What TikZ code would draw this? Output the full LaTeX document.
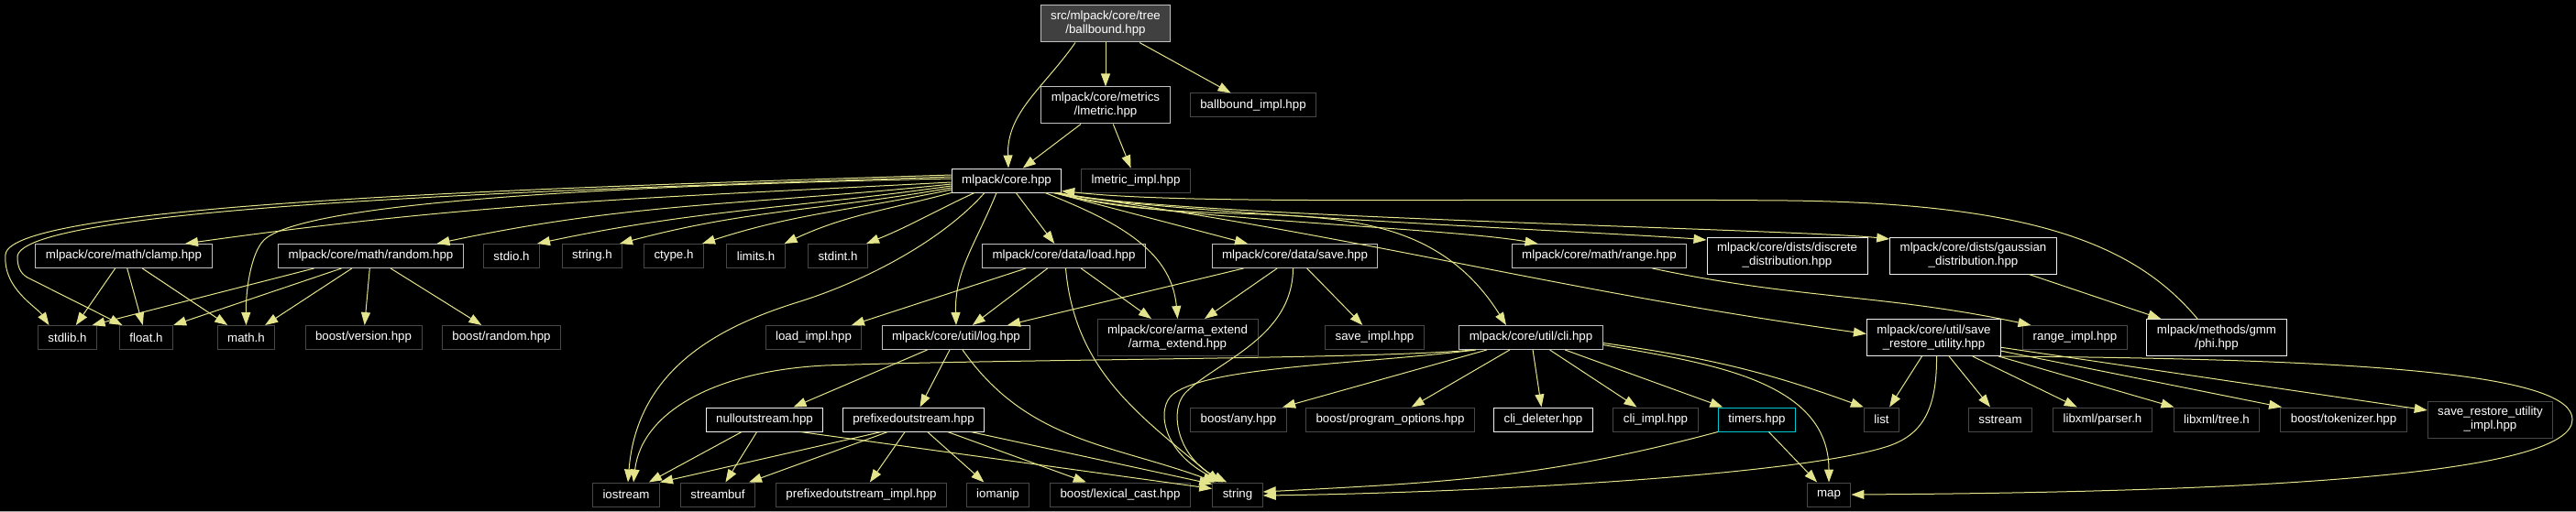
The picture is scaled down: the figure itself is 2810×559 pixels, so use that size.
\documentclass[tikz,border=0pt]{standalone}
\usepackage{fontspec}
\setmainfont{Liberation Sans}
\usepackage{xcolor}
\usepackage{tikz}
\usetikzlibrary{arrows.meta}
\definecolor{edgeyellow}{RGB}{228,228,140}
\definecolor{docwhite}{RGB}{238,238,238}
\definecolor{docgrey}{RGB}{192,192,192}
\definecolor{sysgrey}{RGB}{72,72,72}
\definecolor{rootfill}{RGB}{64,64,64}
\definecolor{cycleteal}{RGB}{0,200,210}
\tikzstyle{hfile}    = [rectangle, draw, fill=black, text=white,
                        font=\fontsize{13.3}{15}\selectfont, align=center,
                        inner xsep=11pt, inner ysep=0pt, minimum height=26pt,
                        line width=1pt]
\tikzstyle{rootfile} = [hfile, draw=docgrey, fill=rootfill, minimum height=40pt]
\tikzstyle{docfile}  = [hfile, draw=docwhite]
\tikzstyle{incfile}  = [hfile, draw=docgrey]
\tikzstyle{sysfile}  = [hfile, draw=sysgrey]
\tikzstyle{cycfile}  = [hfile, draw=cycleteal]
\tikzstyle{twoline}  = [minimum height=40pt]
\tikzstyle{arrow}    = [-{Triangle[length=14pt,width=10pt]}, draw=edgeyellow, line width=1pt]

\begin{document}
\begin{tikzpicture}[x=1pt, y=1pt]
  \fill[black] (0,0) rectangle (2810,-559);
  \useasboundingbox (0,0) rectangle (2810,-559);
  \draw[gray!70, line width=1.3pt] (0,-558.3) -- (2810,-558.3);

  % Header and its direct includes
  \node[rootfile] (root) at (1206,-26) {src/mlpack/core/tree\\/ballbound.hpp};
  \node[incfile, twoline] (lmetric) at (1206,-115) {mlpack/core/metrics\\/lmetric.hpp};
  \node[sysfile] (bbimpl) at (1367,-115) {ballbound\_impl.hpp};
  \node[docfile] (core) at (1098,-197) {mlpack/core.hpp};
  \node[sysfile] (lmimpl) at (1239,-197) {lmetric\_impl.hpp};

  % Second row
  \node[incfile] (clamp) at (135,-279.5) {mlpack/core/math/clamp.hpp};
  \node[incfile] (random) at (404.5,-279.5) {mlpack/core/math/random.hpp};
  \node[sysfile] (stdio) at (558,-279.5) {stdio.h};
  \node[sysfile] (stringh) at (646,-279.5) {string.h};
  \node[sysfile] (ctype) at (735,-279.5) {ctype.h};
  \node[sysfile] (limits) at (824.5,-279.5) {limits.h};
  \node[sysfile] (stdint) at (914,-279.5) {stdint.h};
  \node[incfile] (load) at (1160.5,-279.5) {mlpack/core/data/load.hpp};
  \node[incfile] (save) at (1412.5,-279.5) {mlpack/core/data/save.hpp};
  \node[incfile] (range) at (1744.5,-279.5) {mlpack/core/math/range.hpp};
  \node[docfile, twoline] (discrete) at (1949.5,-279) {mlpack/core/dists/discrete\\\_distribution.hpp};
  \node[docfile, twoline] (gaussian) at (2152.5,-279) {mlpack/core/dists/gaussian\\\_distribution.hpp};

  % Third row
  \node[sysfile] (stdlib) at (73.5,-368.5) {stdlib.h};
  \node[sysfile] (floath) at (159.5,-368.5) {float.h};
  \node[sysfile] (mathh) at (268.5,-368.5) {math.h};
  \node[sysfile] (version) at (396.5,-368.5) {boost/version.hpp};
  \node[sysfile] (brandom) at (547,-368.5) {boost/random.hpp};
  \node[sysfile] (loadimpl) at (887.5,-368.5) {load\_impl.hpp};
  \node[incfile] (log) at (1043,-368.5) {mlpack/core/util/log.hpp};
  \node[sysfile, twoline] (arma) at (1284.5,-368.5) {mlpack/core/arma\_extend\\/arma\_extend.hpp};
  \node[sysfile] (saveimpl) at (1499.5,-368.5) {save\_impl.hpp};
  \node[incfile] (cli) at (1670,-368.5) {mlpack/core/util/cli.hpp};
  \node[docfile, twoline] (saverest) at (2109.5,-368.5) {mlpack/core/util/save\\\_restore\_utility.hpp};
  \node[sysfile] (rangeimpl) at (2263.5,-368.5) {range\_impl.hpp};
  \node[docfile, twoline] (phi) at (2418,-368.5) {mlpack/methods/gmm\\/phi.hpp};

  % Fourth row
  \node[docfile] (nullos) at (834,-458) {nulloutstream.hpp};
  \node[docfile] (prefos) at (996.5,-458) {prefixedoutstream.hpp};
  \node[sysfile] (anyh) at (1351,-458) {boost/any.hpp};
  \node[sysfile] (progopt) at (1516.5,-458) {boost/program\_options.hpp};
  \node[docfile] (clidel) at (1683.5,-458) {cli\_deleter.hpp};
  \node[sysfile] (cliimpl) at (1806,-458) {cli\_impl.hpp};
  \node[cycfile] (timers) at (1916.5,-458) {timers.hpp};
  \node[sysfile] (list) at (2052.5,-458) {list};
  \node[sysfile] (sstream) at (2182,-458) {sstream};
  \node[sysfile] (parser) at (2293.5,-458) {libxml/parser.h};
  \node[sysfile] (tree) at (2418,-458) {libxml/tree.h};
  \node[sysfile] (tokenizer) at (2556.5,-458) {boost/tokenizer.hpp};
  \node[sysfile, twoline] (srimpl) at (2716.5,-458) {save\_restore\_utility\\\_impl.hpp};

  % Bottom row
  \node[sysfile] (iostream) at (683,-540) {iostream};
  \node[sysfile] (streambuf) at (783,-540) {streambuf};
  \node[sysfile] (preimpl) at (939.5,-540) {prefixedoutstream\_impl.hpp};
  \node[sysfile] (iomanip) at (1088.5,-540) {iomanip};
  \node[sysfile] (lexical) at (1222,-540) {boost/lexical\_cast.hpp};
  \node[sysfile] (string) at (1350,-540) {string};
  \node[sysfile] (map) at (1995,-540) {map};

  % Header includes
  \draw[arrow] ([xshift=-33pt]root.south) to[out=-125,in=92] ([xshift=2pt]core.north);
  \draw[arrow] (root) -- (lmetric);
  \draw[arrow] (root) -- (bbimpl);
  \draw[arrow] (lmetric) -- (core);
  \draw[arrow] (lmetric) -- (lmimpl);

  % core.hpp, left hand side
  \draw[arrow] ([yshift=6pt]core.west) .. controls (600,-205) and (10,-222) .. (6,-278)
               .. controls (3,-315) and (40,-335) .. ([xshift=-20pt]stdlib.north);
  \draw[arrow] ([yshift=4pt]core.west) .. controls (600,-207) and (25,-226) .. (19,-280)
               to[out=-90,in=150] (30,-303) -- ([xshift=-26pt]floath.north);
  \draw[arrow] ([yshift=2pt]core.west) .. controls (650,-203) and (330,-222) .. (288,-262)
               .. controls (273,-277) and (268,-320) .. (mathh.north);
  \draw[arrow] ([yshift=-2pt]core.west) to[out=183,in=8] ([xshift=67pt]clamp.north);
  \draw[arrow] ([yshift=-4pt]core.west) to[out=186,in=12] ([xshift=72pt]random.north);
  \draw[arrow] ([yshift=-6pt]core.west) to[out=188,in=12] ([xshift=28pt]stdio.north);
  \draw[arrow] ([yshift=-8pt]core.west) to[out=190,in=15] ([xshift=30pt]stringh.north);
  \draw[arrow] ([yshift=-10pt]core.west) to[out=192,in=18] ([xshift=31pt]ctype.north);
  \draw[arrow] (core.south west) to[out=195,in=25] ([xshift=31pt]limits.north);
  \draw[arrow] ([xshift=-35pt]core.south) to[out=-155,in=22] ([xshift=31pt]stdint.north);

  % core.hpp, downwards
  \draw[arrow] ([xshift=-24pt]core.south) .. controls (1030,-260) and (950,-305) .. (870,-330)
               .. controls (790,-355) and (695,-400) .. ([xshift=2pt]iostream.north);
  \draw[arrow] ([xshift=-11pt]core.south) to[out=-112,in=92] (log.north);
  \draw[arrow] (core) -- (load);
  \draw[arrow] ([xshift=42pt]core.south) to[out=-22,in=95] (arma.north);
  \draw[arrow] (core) -- (save);

  % core.hpp, right hand side (under lmetric_impl.hpp)
  \draw[arrow] ([xshift=-2pt]core.south east) to[out=-14,in=174,looseness=0.3] ([yshift=18pt]gaussian.west);
  \draw[arrow] ([xshift=-4pt]core.south east) to[out=-15,in=175,looseness=0.3] ([yshift=17pt]discrete.west);
  \draw[arrow] ([xshift=-6pt]core.south east) to[out=-16,in=170,looseness=0.5] ([xshift=-67pt]range.north);
  \draw[arrow] ([xshift=-8pt]core.south east) to[out=-15,in=122] ([xshift=-27pt]cli.north);
  \draw[arrow] ([xshift=-10pt]core.south east) to[out=-8,in=172] ([yshift=4pt]saverest.west);
  \draw[arrow] ([xshift=-21pt]phi.north) .. controls (2330,-268) and (2220,-222) .. (1950,-219)
               .. controls (1600,-216) and (1300,-224) .. ([yshift=2pt]core.south east);

  % Math headers
  \draw[arrow] (clamp) -- (stdlib);
  \draw[arrow] (clamp) -- (floath);
  \draw[arrow] (clamp) -- (mathh);
  \draw[arrow] ([xshift=-62pt]random.south) -- ([xshift=27pt]stdlib.north);
  \draw[arrow] ([xshift=-32pt]random.south) -- (floath.north east);
  \draw[arrow] (random) -- (mathh);
  \draw[arrow] (random) -- (version);
  \draw[arrow] (random) -- (brandom);
  \draw[arrow] ([xshift=58pt]range.south) to[out=-12,in=168] ([xshift=-48pt]rangeimpl.north);
  \draw[arrow] (gaussian) -- (phi);

  % Data load and save
  \draw[arrow] (load) -- (loadimpl);
  \draw[arrow] (load) -- (log);
  \draw[arrow] (load) -- (arma);
  \draw[arrow] ([xshift=2pt]load.south) to[out=-85,in=140] ([xshift=8pt]string.north west);
  \draw[arrow] (save) -- (log);
  \draw[arrow] (save) -- (arma);
  \draw[arrow] (save) -- (saveimpl);
  \draw[arrow] ([xshift=-2pt]save.south) .. controls (1410,-370) and (1325,-395) .. (1292,-430)
               .. controls (1275,-450) and (1285,-500) .. ([xshift=16pt]string.north west);

  % Logging
  \draw[arrow] (log) -- (prefos);
  \draw[arrow] (log) -- (nullos);
  \draw[arrow] ([xshift=7pt]log.south) to[out=-55,in=160] ([xshift=4pt]string.north west);
  \draw[arrow] (nullos) -- (iostream);
  \draw[arrow] (nullos) -- (streambuf);
  \draw[arrow] ([xshift=39pt]nullos.south) -- ([yshift=-7pt]string.north west);
  \draw[arrow] ([xshift=-35pt]prefos.south) -- (iostream.north east);
  \draw[arrow] ([xshift=-28pt]prefos.south) -- ([xshift=34pt]streambuf.north);
  \draw[arrow] (prefos) -- (preimpl);
  \draw[arrow] (prefos) -- (iomanip);
  \draw[arrow] (prefos) -- (lexical);
  \draw[arrow] (prefos) -- ([yshift=-2pt]string.north west);

  % Command line
  \draw[arrow] ([xshift=-63pt]cli.south) .. controls (1500,-392) and (1100,-392) .. (900,-399)
               .. controls (780,-405) and (700,-450) .. ([xshift=8pt]iostream.north);
  \draw[arrow] ([xshift=-60pt]cli.south) .. controls (1480,-398) and (1320,-400) .. (1280,-430)
               .. controls (1260,-445) and (1268,-495) .. ([xshift=12pt]string.north west);
  \draw[arrow] (cli) -- (anyh);
  \draw[arrow] (cli) -- (progopt);
  \draw[arrow] (cli) -- (clidel);
  \draw[arrow] (cli) -- (cliimpl);
  \draw[arrow] (cli) -- (timers);
  \draw[arrow] ([yshift=-6pt]cli.east) to[out=-8,in=160] (list.north west);
  \draw[arrow] ([yshift=-8pt]cli.east) to[out=-10,in=90] (map.north);
  \draw[arrow] (timers) -- (map);
  \draw[arrow] (timers.south west) to[out=-165,in=3] ([yshift=3pt]string.east);

  % Save / restore utility
  \draw[arrow] (saverest) -- (list);
  \draw[arrow] (saverest) -- (sstream);
  \draw[arrow] (saverest) -- (parser);
  \draw[arrow] (saverest) -- (tree);
  \draw[arrow] (saverest) -- (tokenizer);
  \draw[arrow] (saverest) -- (srimpl);
  \draw[arrow] ([xshift=3pt]saverest.south) .. controls (2113,-450) and (2095,-475) .. (2060,-487)
               .. controls (1960,-520) and (1600,-538) .. ([yshift=-1pt]string.east);
  \draw[arrow] (saverest.south east) .. controls (2600,-392) and (2806,-410) .. (2806,-458)
               .. controls (2806,-515) and (2500,-537) .. (map.east);
\end{tikzpicture}
\end{document}
